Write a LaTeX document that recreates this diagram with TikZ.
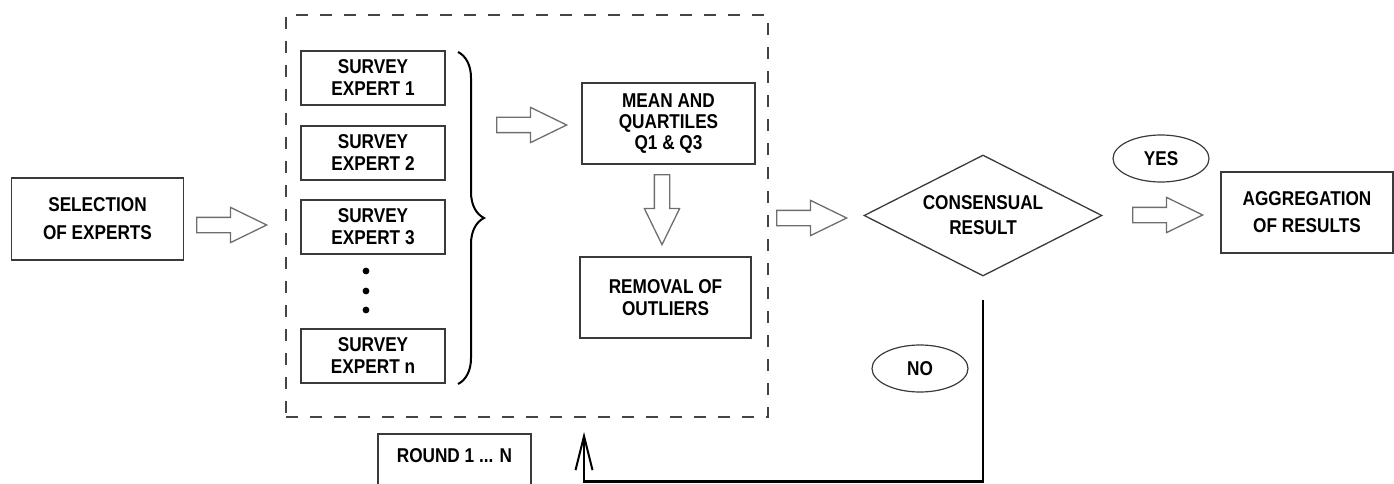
\documentclass[tikz,border=0pt]{standalone}
\usepackage{fontspec}
\setmainfont[FakeStretch=0.86]{Liberation Sans}
\usepackage{xcolor}
\definecolor{linegray}{HTML}{3A3A3A}
\definecolor{arrowgray}{HTML}{6E6E6E}
\definecolor{dashgray}{HTML}{444444}
\tikzstyle{box} = [draw=linegray, line width=1.5pt, rectangle, align=center, inner sep=0pt]
\tikzstyle{bubble} = [draw=linegray, line width=1.2pt, ellipse, minimum width=96pt, minimum height=47pt, inner sep=0pt]
\tikzstyle{bigarrow} = [draw=arrowgray, line width=1.3pt, single arrow, minimum height=70pt, minimum width=34pt, single arrow head extend=10pt, single arrow tip angle=52, inner sep=7pt, anchor=tail]
\usetikzlibrary{positioning, arrows.meta, shapes.geometric, shapes.arrows, decorations.pathreplacing}

\begin{document}
\begin{tikzpicture}[x=1pt, y=-1pt, font=\bfseries\fontsize{20}{22}\selectfont]
	\useasboundingbox (0,0) rectangle (1394,484);
	\clip (0,0) rectangle (1394,484);
	%diagram
	\node[box, minimum width=172pt, minimum height=82pt] (selection) at (97.5,219) {SELECTION\\[6pt]OF EXPERTS};
	\node[draw=dashgray, line width=2pt, dash pattern=on 12pt off 12pt, minimum width=482pt, minimum height=402pt] (rounds) at (527,216) {};
	\node[box, minimum width=144pt, minimum height=54pt] (survey1) at (373,78) {SURVEY\\EXPERT 1};
	\node[box, minimum width=144pt, minimum height=54pt] (survey2) at (373,153) {SURVEY\\EXPERT 2};
	\node[box, minimum width=144pt, minimum height=54pt] (survey3) at (373,227) {SURVEY\\EXPERT 3};
	\node[box, minimum width=144pt, minimum height=54pt] (surveyn) at (373,356) {SURVEY\\EXPERT n};
	\foreach \y [count=\i] in {271,291,310}
		\node[circle, fill=black, inner sep=2.4pt] (dot\i) at (366,\y) {};
	\node[box, minimum width=173pt, minimum height=81pt] (mean) at (668.5,123.5) {MEAN AND\\[-1pt]QUARTILES\\[-1pt]Q1 \& Q3};
	\node[box, minimum width=171pt, minimum height=81pt] (removal) at (665.5,297.5) {REMOVAL OF\\OUTLIERS};
	\node[draw=linegray, line width=1.3pt, diamond, aspect=1.97, minimum width=238pt, minimum height=121pt, inner sep=0pt, align=center] (consensus) at (983,215.5) {CONSENSUAL\\[3pt]RESULT};
	\node[box, minimum width=172pt, minimum height=81pt] (aggregation) at (1307,212.5) {AGGREGATION\\[5pt]OF RESULTS};
	\node[bubble] (yes) at (1161,158.5) {YES};
	\node[bubble] (no) at (920,368.5) {NO};
	\node[minimum width=153pt, minimum height=70pt, anchor=north, text depth=28pt] (round) at (454.5,434) {ROUND 1 ... N};
	\draw[linegray, line width=1.5pt] (round.south west) |- (round.north east) -- (round.south east);

	%arrows
	\node[bigarrow] (arr1) at (196,225) {};
	\node[bigarrow] (arr2) at (496,125) {};
	\node[bigarrow, shape border rotate=270] (arr3) at (662,174) {};
	\node[bigarrow] (arr4) at (776,218) {};
	\node[bigarrow] (arr5) at (1132,215) {};
	\draw [line width=2pt, decorate, decoration={brace, amplitude=26pt}] (458,52) -- (458,384);

	%loop back
	\coordinate (fbstart) at ([yshift=-23pt]consensus.south);
	\coordinate (fbtip) at (584,432);
	\draw[line width=2.6pt, -{Straight Barb[length=34pt, width=17pt, line width=2pt]}] (fbstart) -- ++(0,182) -| (fbtip);
\end{tikzpicture}
\end{document}
